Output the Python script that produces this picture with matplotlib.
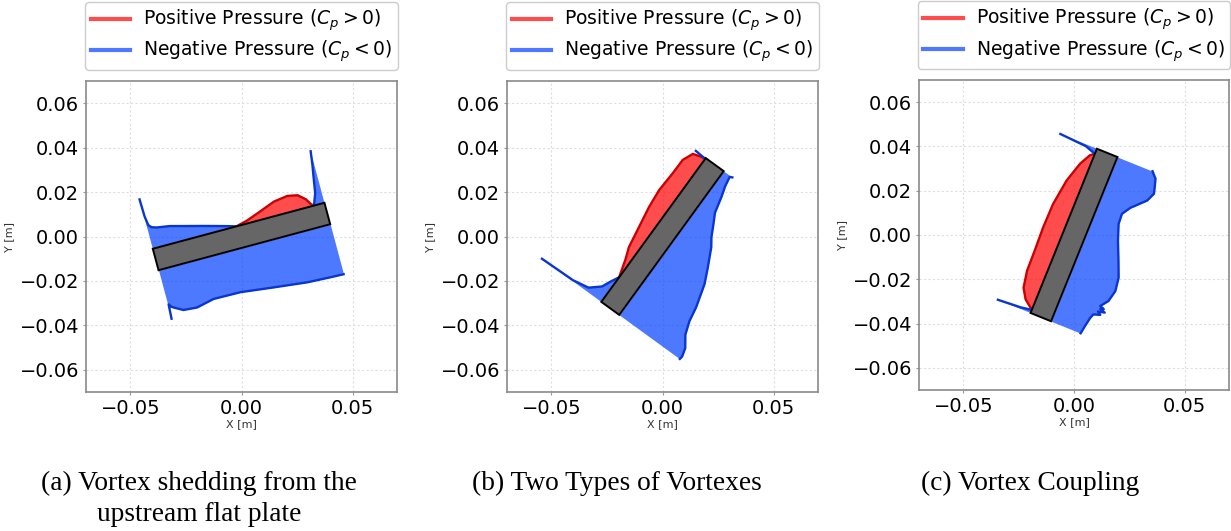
import numpy as np
import matplotlib
matplotlib.use("Agg")
import matplotlib.pyplot as plt
from matplotlib.patches import Rectangle
from matplotlib.transforms import Affine2D
from matplotlib.lines import Line2D

W, H, DPI = 1231, 531, 100

PLATE_LEN = 0.08      # m
PLATE_THK = 0.01      # m
CP_SCALE = 0.01       # m of normal offset per unit |Cp|

ANGLES = [15, 54, 68]  # plate inclination, deg
CAPTIONS = ["(a) Vortex shedding from the\nupstream flat plate",
            "(b) Two Types of Vortexes",
            "(c) Vortex Coupling"]

# Cp read along each face, s = distance from plate centre (m)
A_UP_S = [-0.0400, -0.0398, -0.0392, -0.0380, -0.0358, -0.0300, -0.0240, -0.0160,
          -0.0094, -0.0040, -0.0010, 0.0040, 0.0096, 0.0182, 0.0247, 0.0292, 0.0323,
          0.0346, 0.0355, 0.0371, 0.0383, 0.0392, 0.0400]
A_UP_CP = [-2.30, -1.50, -1.08, -0.95, -0.88, -0.79, -0.63, -0.42,
           -0.24, -0.09, 0.00, 0.12, 0.32, 0.64, 0.73, 0.64, 0.37,
           0.00, -0.10, -0.53, -1.27, -1.80, -2.40]
A_LO_S = [-0.0400, -0.0396, -0.0388, -0.0379, -0.0338, -0.0276, -0.0194, -0.0069,
          0.0082, 0.0234, 0.0342, 0.0400]
A_LO_CP = [-2.26, -1.60, -1.72, -1.79, -2.02, -2.07, -1.89, -1.91,
           -2.09, -2.26, -2.31, -2.33]

B_UP_S = [-0.0400, -0.0396, -0.0382, -0.0342, -0.0302, -0.0263, -0.0179, -0.0128,
          -0.0061, 0.0072, 0.0160, 0.0257, 0.0332, 0.0381, 0.0393, 0.0396, 0.0400]
B_UP_CP = [-3.30, -1.60, -0.84, -0.38, -0.20, 0.00, 0.25, 0.44,
           0.55, 0.77, 0.85, 0.80, 0.79, 0.58, 0.20, 0.00, -0.55]
B_LO_S = [-0.0400, -0.0385, -0.0346, -0.0297, -0.0237, -0.0170, -0.0062, 0.0007,
          0.0090, 0.0127, 0.0168, 0.0226, 0.0300, 0.0350, 0.0395, 0.0400]
B_LO_CP = [-3.37, -3.39, -3.28, -2.93, -2.72, -2.60, -2.29, -1.97,
           -1.56, -1.30, -1.09, -0.78, -0.60, -0.45, -0.37, -0.48]

C_UP_S = [-0.0400, -0.0393, -0.0385, -0.0378, -0.0351, -0.0306, -0.0230, -0.0133,
          -0.0020, 0.0095, 0.0216, 0.0309, 0.0361, 0.0375, 0.0392, 0.0400]
C_UP_CP = [-1.59, -0.50, 0.00, 0.09, 0.44, 0.72, 0.86, 0.88,
           0.92, 0.90, 0.73, 0.45, 0.18, 0.00, -0.50, -1.78]
C_LO_S = [-0.0400, -0.0363, -0.0320, -0.0300, -0.0290, -0.0280, -0.0273, -0.0265,
          -0.0260, -0.0253, -0.0218, -0.0165, -0.0103, -0.0033, 0.0050, 0.0122,
          0.0170, 0.0209, 0.0268, 0.0308, 0.0337, 0.0374, 0.0385, 0.0400]
C_LO_CP = [-1.44, -1.50, -1.58, -1.65, -1.95, -1.80, -2.10, -1.85,
           -2.00, -1.80, -2.06, -2.18, -2.09, -1.80, -1.44, -1.18,
           -1.15, -1.40, -1.98, -2.15, -2.07, -1.96, -1.85, -1.71]

PANELS = [
    ((A_UP_S, A_UP_CP), (A_LO_S, A_LO_CP)),
    ((B_UP_S, B_UP_CP), (B_LO_S, B_LO_CP)),
    ((C_UP_S, C_UP_CP), (C_LO_S, C_LO_CP)),
]

# axes boxes in pixels: left, top, size
AX_PX = [(86, 81, 311), (507, 81, 311), (919, 80, 310)]
CAP_X = [199, 617, 1030]
CAP_BASE, CAP_STEP = 490, 31

RED_FILL, RED_LINE = "red", "#cc0000"
BLUE_FILL, BLUE_LINE = "#0040ff", "#0a36d0"


def draw_face(ax, tr, s, cp, side):
    s = np.asarray(s)
    cp = np.asarray(cp)
    base = side * PLATE_THK / 2
    n = base + side * CP_SCALE * np.abs(cp)
    for mask, fc, lc in ((cp >= 0, RED_FILL, RED_LINE), (cp <= 0, BLUE_FILL, BLUE_LINE)):
        if not mask.any():
            continue
        ax.fill_between(s, base, n, where=mask, color=fc, alpha=0.7,
                        linewidth=0, transform=tr, zorder=2)
        ax.plot(s, np.where(mask, n, np.nan), color=lc, lw=1.7,
                transform=tr, zorder=3, solid_joinstyle="round")


fig = plt.figure(figsize=(W / DPI, H / DPI), dpi=DPI)

for i, (faces, angle) in enumerate(zip(PANELS, ANGLES)):
    left, top, size = AX_PX[i]
    ax = fig.add_axes([left / W, 1 - (top + size) / H, size / W, size / H])
    tr = Affine2D().rotate_deg(angle) + ax.transData

    draw_face(ax, tr, *faces[0], side=1)
    draw_face(ax, tr, *faces[1], side=-1)
    ax.add_patch(Rectangle((-PLATE_LEN / 2, -PLATE_THK / 2), PLATE_LEN, PLATE_THK,
                           facecolor="#666666", edgecolor="black", lw=1.4,
                           transform=tr, zorder=4))

    ax.set_xlim(-0.07, 0.07)
    ax.set_ylim(-0.07, 0.07)
    ax.set_aspect("equal")
    ax.set_xticks([-0.05, 0.0, 0.05])
    ax.set_yticks([-0.06, -0.04, -0.02, 0.0, 0.02, 0.04, 0.06])
    ax.tick_params(labelsize=14, length=2, color="#999999", pad=3)
    ax.grid(True, linestyle=(0, (2, 2)), color="#dedede", lw=0.8)
    ax.set_axisbelow(True)
    for sp in ax.spines.values():
        sp.set_color("#8a8a8a")
        sp.set_linewidth(1.2)
    ax.set_xlabel("X [m]", fontsize=8, color="#333333", labelpad=1)
    ax.set_ylabel("Y [m]", fontsize=8, color="#333333", labelpad=4)

    handles = [Line2D([], [], color=RED_FILL, alpha=0.7, lw=3),
               Line2D([], [], color=BLUE_FILL, alpha=0.7, lw=3)]
    ax.legend(handles, ["Positive Pressure ($C_p > 0$)",
                        "Negative Pressure ($C_p < 0$)"],
              loc="lower center", bbox_to_anchor=(0.5, 1.035), fontsize=13.5,
              handlelength=2.1, handletextpad=0.7, borderpad=0.3,
              labelspacing=0.3, borderaxespad=0, framealpha=1,
              edgecolor="#cccccc")

    for k, line in enumerate(CAPTIONS[i].split("\n")):
        fig.text(CAP_X[i] / W, 1 - (CAP_BASE + k * CAP_STEP) / H, line,
                 ha="center", va="baseline", fontsize=19.7,
                 family="Liberation Serif")

fig.savefig("out.png", dpi=DPI)
